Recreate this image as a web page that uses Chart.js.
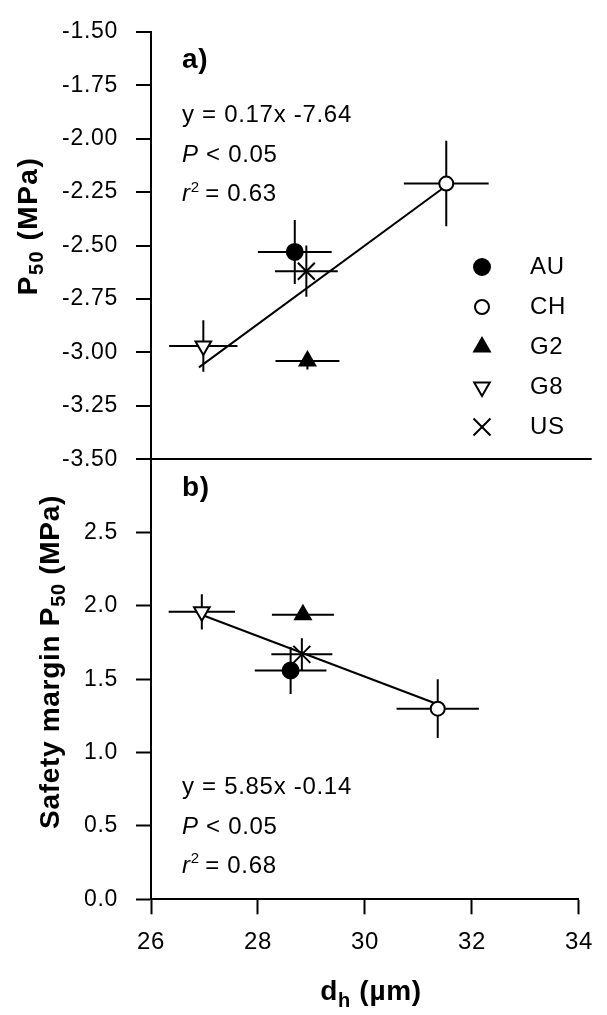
<!DOCTYPE html>
<html>
<head>
<meta charset="utf-8">
<script src="https://cdn.jsdelivr.net/npm/chart.js@4.4.1/dist/chart.umd.min.js"></script>
<style>
html, body { margin: 0; padding: 0; background: #fff; }
#wrap { position: relative; width: 607px; height: 1015px; }
#wrap canvas { position: absolute; left: 0; top: 0; }
</style>
</head>
<body>
<div id="wrap">
  <canvas id="chartB" width="607" height="1015"></canvas>
  <canvas id="chartA" width="607" height="1015"></canvas>
</div>
<script>
// values
const groups = ["AU", "CH", "G2", "G8", "US"];
const dh = [28.61, 31.36, 28.84, 26.95, 28.82];
const dhErr = [0.67, 0.77, 0.58, 0.62, 0.57];
const p50 = [-2.53, -2.21, -3.04, -2.97, -2.62];
const p50Err = [0.15, 0.20, 0.04, 0.12, 0.12];
const margin = [1.56, 1.30, 1.94, 1.96, 1.67];
const marginErr = [0.16, 0.20, 0.03, 0.12, 0.11];
const fitX = [26.87, 31.36];
const fitA = [-3.07, -2.22];
const fitB = [1.95, 1.33];
const xTicks = [26, 28, 30, 32, 34];
const ticksA = [-3.5, -3.25, -3.0, -2.75, -2.5, -2.25, -2.0, -1.75, -1.5];
const ticksB = [0, 0.5, 1.0, 1.5, 2.0, 2.5];

const FONT = '"Liberation Sans", Arial, sans-serif';
const SPACING = "0.7px";

const markers = {
    AU: { pointStyle: "circle", radius: 8, fill: "#000", rotation: 0 },
    CH: { pointStyle: "circle", radius: 7, fill: "#fff", rotation: 0 },
    G2: { pointStyle: "triangle", radius: 9, fill: "#000", rotation: 0 },
    G8: { pointStyle: "triangle", radius: 9, fill: "#fff", rotation: 180 },
    US: { pointStyle: "crossRot", radius: 12, fill: "#000", rotation: 0 }
};

function buildDatasets(yVals, yErr, fitY) {
    const sets = groups.map((g, i) => ({
        label: g,
        data: [{ x: dh[i], y: yVals[i] }],
        pointStyle: markers[g].pointStyle,
        pointRadius: markers[g].radius,
        pointRotation: markers[g].rotation,
        pointBackgroundColor: markers[g].fill,
        pointBorderColor: "#000",
        pointBorderWidth: 2,
        order: 0
    }));

    // error bars as one broken line
    const bars = [];
    groups.forEach((g, i) => {
        bars.push({ x: dh[i] - dhErr[i], y: yVals[i] }, { x: dh[i] + dhErr[i], y: yVals[i] }, { x: dh[i], y: null });
        bars.push({ x: dh[i], y: yVals[i] - yErr[i] }, { x: dh[i], y: yVals[i] + yErr[i] }, { x: dh[i], y: null });
    });
    sets.push({
        label: "err", data: bars, showLine: true, spanGaps: false,
        borderColor: "#000", borderWidth: 2, pointRadius: 0, order: 2
    });

    sets.push({
        label: "fit",
        data: fitX.map((x, i) => ({ x, y: fitY[i] })),
        showLine: true, borderColor: "#000", borderWidth: 2, pointRadius: 0, order: 1
    });
    return sets;
}

// text with italic / sub / superscript pieces
function drawRich(ctx, parts, x, y, align) {
    let total = 0;
    parts.forEach(p => { ctx.font = p.font; p.w = ctx.measureText(p.text).width; total += p.w; });
    let cx = align === "center" ? x - total / 2 : x;
    ctx.textAlign = "left";
    ctx.textBaseline = "middle";
    ctx.fillStyle = "#000";
    parts.forEach(p => {
        ctx.font = p.font;
        ctx.fillText(p.text, cx, y + (p.dy || 0));
        cx += p.w;
    });
}

const norm = `24px ${FONT}`;
const ital = `italic 24px ${FONT}`;
const small = `15px ${FONT}`;
const bold = `bold 28px ${FONT}`;
const boldSub = `bold 20px ${FONT}`;

function statLines(ctx, left, top, eq, r2) {
    drawRich(ctx, [{ text: eq, font: norm }], left, top, "left");
    drawRich(ctx, [{ text: "P", font: ital }, { text: " < 0.05", font: norm }], left, top + 40, "left");
    drawRich(ctx, [{ text: "r", font: ital }, { text: "2", font: small, dy: -7 }, { text: "\u2009= " + r2, font: norm }], left, top + 79, "left");
}

const spacing = {
    id: "spacing",
    beforeLayout(chart) { chart.ctx.letterSpacing = SPACING; },
    beforeDraw(chart) { chart.ctx.letterSpacing = SPACING; }
};

const panelA = {
    id: "panelA",
    afterDraw(chart) {
        const ctx = chart.ctx;
        const a = chart.chartArea;
        ctx.save();
        drawRich(ctx, [{ text: "a)", font: bold }], a.left + 31, a.top + 28, "left");
        statLines(ctx, a.left + 31, a.top + 84, "y = 0.17x -7.64", "0.63");

        // y title
        ctx.translate(29, 226);
        ctx.rotate(-Math.PI / 2);
        ctx.letterSpacing = "1.5px";
        drawRich(ctx, [{ text: "P", font: bold }, { text: "50", font: boldSub, dy: 8 }, { text: " (MPa)", font: bold }], 0, 0, "center");
        ctx.restore();

        // legend
        ctx.save();
        groups.forEach((g, i) => {
            const m = markers[g];
            const y = 267 + i * 40;
            ctx.fillStyle = m.fill;
            ctx.strokeStyle = "#000";
            ctx.lineWidth = 2;
            Chart.helpers.drawPoint(ctx, { pointStyle: m.pointStyle, radius: m.radius, rotation: m.rotation, borderWidth: 2 }, 482, y);
            drawRich(ctx, [{ text: g, font: norm }], 530, y, "left");
        });
        ctx.restore();
    }
};

const panelB = {
    id: "panelB",
    afterDraw(chart) {
        const ctx = chart.ctx;
        const a = chart.chartArea;
        ctx.save();
        drawRich(ctx, [{ text: "b)", font: bold }], a.left + 31, a.top + 29, "left");
        statLines(ctx, a.left + 31, a.top + 328, "y = 5.85x -0.14", "0.68");

        drawRich(ctx, [{ text: "d", font: bold }, { text: "h", font: boldSub, dy: 9 }, { text: " (µm)", font: bold }], 371, 992, "center");

        ctx.translate(51, 662);
        ctx.rotate(-Math.PI / 2);
        drawRich(ctx, [{ text: "Safety margin P", font: bold }, { text: "50", font: boldSub, dy: 8 }, { text: " (MPa)", font: bold }], 0, 0, "center");
        ctx.restore();
    }
};

const yCommon = {
    afterFit: s => { s.width = 151; },
    ticks: { font: { family: FONT, size: 23 }, color: "#000", padding: 18 },
    border: { display: true, color: "#000", width: 2 }
};

new Chart(document.getElementById("chartA"), {
    type: "scatter",
    data: { datasets: buildDatasets(p50, p50Err, fitA) },
    options: {
        responsive: false,
        animation: false,
        layout: { padding: { left: 0, top: 19.3, right: 15.3, bottom: 555.7 } },
        plugins: { legend: { display: false }, tooltip: { enabled: false } },
        scales: {
            x: { type: "linear", min: 26, max: 34, display: false },
            y: {
                ...yCommon,
                min: -3.5, max: -1.5,
                afterBuildTicks: s => { s.ticks = ticksA.map(v => ({ value: v })); },
                ticks: { ...yCommon.ticks, callback: v => v.toFixed(2) },
                grid: {
                    color: c => (c.tick && c.tick.value === -3.5 ? "#000" : "rgba(0,0,0,0)"),
                    lineWidth: 2, tickLength: 15, tickColor: "#000", tickWidth: 2
                }
            }
        }
    },
    plugins: [spacing, panelA]
});

new Chart(document.getElementById("chartB"), {
    type: "scatter",
    data: { datasets: buildDatasets(margin, marginErr, fitB) },
    options: {
        responsive: false,
        animation: false,
        layout: { padding: { left: 0, top: 459.3, right: 15.3, bottom: 0 } },
        plugins: { legend: { display: false }, tooltip: { enabled: false } },
        scales: {
            x: {
                type: "linear", min: 26, max: 34,
                afterFit: s => { s.height = 115.7; },
                afterBuildTicks: s => { s.ticks = xTicks.map(v => ({ value: v })); },
                ticks: { font: { family: FONT, size: 24 }, color: "#000", padding: 14 },
                grid: { drawOnChartArea: false, tickLength: 15, tickColor: "#000", tickWidth: 2 },
                border: { display: true, color: "#000", width: 2 }
            },
            y: {
                ...yCommon,
                min: 0, max: 3,
                afterBuildTicks: s => { s.ticks = ticksB.map(v => ({ value: v })); },
                ticks: { ...yCommon.ticks, callback: v => v.toFixed(1) },
                grid: { drawOnChartArea: false, tickLength: 15, tickColor: "#000", tickWidth: 2 }
            }
        }
    },
    plugins: [spacing, panelB]
});
</script>
</body>
</html>
